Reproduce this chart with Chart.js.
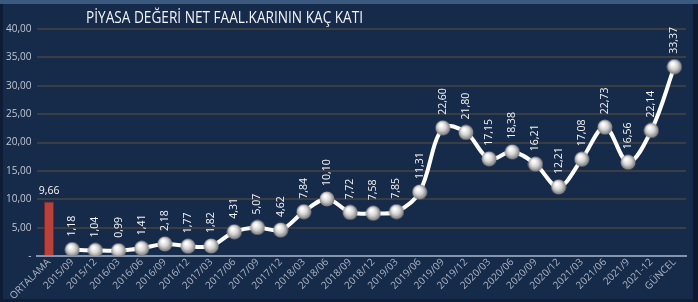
<!DOCTYPE html>
<html lang="tr">
<head>
<meta charset="UTF-8">
<title>Piyasa Değeri / Net Faal. Karı</title>
<script src="https://cdn.jsdelivr.net/npm/chart.js@4.4.0/dist/chart.umd.min.js"></script>
<style>
    html, body { margin: 0; padding: 0; background: #ffffff; }
    #frame {
        position: relative;
        width: 698px; height: 302px;
        background: #162a4a;
        box-shadow: inset 0 4px 0 #3c5a80, inset 3px 0 0 #0e1d35, inset -5px 0 0 #0d1a2f, inset 0 -3px 0 #0f1f38;
        overflow: hidden;
    }
    #title {
        position: absolute; left: 86px; top: 6px;
        font: 15.5px "Open Sans", sans-serif;
        color: #f2f4f8;
        white-space: nowrap;
        transform: scaleX(0.88);
        transform-origin: left top;
    }
    canvas { position: absolute; left: 0; top: 0; }
</style>
</head>
<body>
<div id="frame">
    <canvas id="chartCanvas" width="698" height="302"></canvas>
    <div id="title">PİYASA DEĞERİ NET FAAL.KARININ KAÇ KATI</div>
</div>

<script>
    // categories and values
    const periods = ['ORTALAMA', '2015/09', '2015/12', '2016/03', '2016/06', '2016/09', '2016/12',
        '2017/03', '2017/06', '2017/09', '2017/12', '2018/03', '2018/06', '2018/09', '2018/12',
        '2019/03', '2019/06', '2019/09', '2019/12', '2020/03', '2020/06', '2020/09', '2020/12',
        '2021/03', '2021/06', '2021/9', '2021-12', 'GÜNCEL'];
    const average = [9.66];
    const multiples = [1.18, 1.04, 0.99, 1.41, 2.18, 1.77, 1.82, 4.31, 5.07, 4.62, 7.84, 10.10,
        7.72, 7.58, 7.85, 11.31, 22.60, 21.80, 17.15, 18.38, 16.21, 12.21, 17.08, 22.73,
        16.56, 22.14, 33.37];
    const yTicks = [0, 5, 10, 15, 20, 25, 30, 35, 40];

    const barData = periods.map((p, i) => i < average.length ? average[i] : null);
    const lineData = [null].concat(multiples);

    const fmt = v => v.toFixed(2).replace('.', ',');

    // silver ball marker
    const ball = document.createElement('canvas');
    ball.width = 16; ball.height = 16;
    const bctx = ball.getContext('2d');
    const grad = bctx.createRadialGradient(6, 5, 1, 8, 8, 8);
    grad.addColorStop(0, '#ffffff');
    grad.addColorStop(0.45, '#d6d6d6');
    grad.addColorStop(1, '#6e6e6e');
    bctx.fillStyle = grad;
    bctx.beginPath();
    bctx.arc(8, 8, 7.5, 0, Math.PI * 2);
    bctx.fill();

    const valueLabels = {
        id: 'valueLabels',
        afterDatasetsDraw(chart) {
            const ctx = chart.ctx;
            ctx.save();
            ctx.fillStyle = '#f4f4f4';
            ctx.font = '10.5px "Open Sans", sans-serif';
            // bar label, horizontal
            chart.getDatasetMeta(0).data.forEach((el, i) => {
                if (barData[i] == null) return;
                ctx.textAlign = 'center';
                ctx.textBaseline = 'bottom';
                ctx.fillText(fmt(barData[i]), el.x, el.y - 5);
            });
            // line labels, vertical
            chart.getDatasetMeta(1).data.forEach((el, i) => {
                if (lineData[i] == null) return;
                ctx.save();
                ctx.translate(el.x, el.y - 13);
                ctx.rotate(-Math.PI / 2);
                ctx.textAlign = 'left';
                ctx.textBaseline = 'middle';
                ctx.fillText(fmt(lineData[i]), 0, 0);
                ctx.restore();
            });
            ctx.restore();
        }
    };

    const ctx = document.getElementById('chartCanvas').getContext('2d');
    const myChart = new Chart(ctx, {
        data: {
            labels: periods,
            datasets: [{
                type: 'bar',
                data: barData,
                backgroundColor: '#b8413b',
                borderColor: '#7d2622',
                borderWidth: 1,
                categoryPercentage: 1,
                barPercentage: 0.44
            }, {
                type: 'line',
                data: lineData,
                borderColor: '#ffffff',
                borderWidth: 4,
                tension: 0.35,
                pointStyle: ball,
                pointRadius: 8
            }]
        },
        options: {
            responsive: false,
            animation: false,
            events: [],
            layout: { padding: { top: 29, right: 0, left: 0, bottom: 0 } },
            plugins: {
                legend: { display: false },
                title: { display: false },
                tooltip: { enabled: false }
            },
            scales: {
                x: {
                    offset: true,
                    grid: { display: false, drawTicks: false },
                    border: { color: '#8594ad', width: 2 },
                    ticks: {
                        color: '#aeb6c4',
                        font: { family: 'Open Sans', size: 10 },
                        minRotation: 45,
                        maxRotation: 45,
                        autoSkip: false,
                        padding: 0
                    }
                },
                y: {
                    min: 0,
                    max: 40,
                    afterBuildTicks: axis => { axis.ticks = yTicks.map(v => ({ value: v })); },
                    border: { display: false },
                    grid: {
                        color: ctx => ctx.tick && ctx.tick.value === 0 ? 'rgba(0,0,0,0)' : '#3a3d42',
                        lineWidth: 2,
                        drawTicks: false
                    },
                    ticks: {
                        color: '#c2c8d2',
                        font: { family: 'Open Sans', size: 10 },
                        padding: 6,
                        callback: v => v === 0 ? '-' : fmt(v)
                    }
                }
            }
        },
        plugins: [valueLabels]
    });
</script>
</body>
</html>
